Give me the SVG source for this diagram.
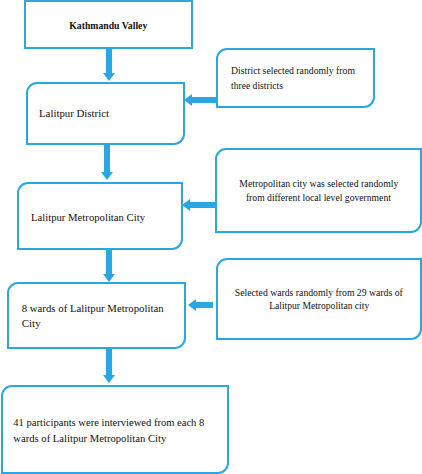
<svg xmlns="http://www.w3.org/2000/svg" width="422" height="474" viewBox="0 0 422 474">
<style>
.box{fill:#fff;stroke:#2aa7e0;stroke-width:2}
.arr{fill:#2aa7e0}
text{font-family:"Liberation Serif","Times New Roman",serif;font-size:11px;fill:#111}
.b{font-weight:bold}
.m{text-anchor:middle}
.s{font-size:10px}
</style>
<rect width="422" height="474" fill="#fff"/>
<g id="connectors">
<path class="arr" d="M106,49 H112 V73 H115 L109,81 L103,73 H106 Z"/>
<path class="arr" d="M104,145 H110 V172 H113 L107,180 L101,172 H104 Z"/>
<path class="arr" d="M106,250 H112 V274 H115 L109,282 L103,274 H106 Z"/>
<path class="arr" d="M106,349 H112 V375 H115 L109,383 L103,375 H106 Z"/>
<path class="arr" d="M217,97 H192 V94 L184,100 L192,106 V103 H217 Z"/>
<path class="arr" d="M216,202 H190 V199 L182,205 L190,211 V208 H216 Z"/>
<path class="arr" d="M213,302 H196 V299 L188,305 L196,311 V308 H213 Z"/>
</g>
<g id="n1" font-family="Liberation Serif, serif">
<rect class="box" x="25" y="1" width="167" height="47"/>
<text class="b" x="69.3" y="28.5" textLength="78" lengthAdjust="spacingAndGlyphs">Kathmandu Valley</text>
</g>
<g id="n2">
<path class="box" d="M37,83 H184 V134 A10,10 0 0 1 174,144 H27 V93 A10,10 0 0 1 37,83 Z"/>
<text x="39" y="117.3" textLength="70" lengthAdjust="spacingAndGlyphs">Lalitpur District</text>
</g>
<g id="s1">
<path class="box" d="M227,49 H374 V97 A10,10 0 0 1 364,107 H217 V59 A10,10 0 0 1 227,49 Z"/>
<text class="s" x="231" y="74.3" textLength="124" lengthAdjust="spacingAndGlyphs">District selected randomly from</text>
<text class="s" x="231" y="89.3" textLength="52" lengthAdjust="spacingAndGlyphs">three districts</text>
</g>
<g id="n3">
<path class="box" d="M28,183 H182 V239 A10,10 0 0 1 172,249 H18 V193 A10,10 0 0 1 28,183 Z"/>
<text x="31" y="220.7" textLength="114" lengthAdjust="spacingAndGlyphs">Lalitpur Metropolitan City</text>
</g>
<g id="s2">
<path class="box" d="M226,149 H421 V222 A10,10 0 0 1 411,232 H216 V159 A10,10 0 0 1 226,149 Z"/>
<text class="m s" x="318.8" y="186.7" textLength="159" lengthAdjust="spacingAndGlyphs">Metropolitan city was selected randomly</text>
<text class="m s" x="318.4" y="200.7" textLength="145" lengthAdjust="spacingAndGlyphs">from different local level government</text>
</g>
<g id="n4">
<path class="box" d="M18,283 H185 V338 A10,10 0 0 1 175,348 H8 V293 A10,10 0 0 1 18,283 Z"/>
<text x="21.7" y="312.3" textLength="142" lengthAdjust="spacingAndGlyphs">8 wards of Lalitpur Metropolitan</text>
<text x="21.7" y="327.3" textLength="19" lengthAdjust="spacingAndGlyphs">City</text>
</g>
<g id="s3">
<path class="box" d="M227,259 H421 V329 A10,10 0 0 1 411,339 H217 V269 A10,10 0 0 1 227,259 Z"/>
<text class="m s" x="318.8" y="295.7" textLength="168" lengthAdjust="spacingAndGlyphs">Selected wards randomly from 29 wards of</text>
<text class="m s" x="319.2" y="309.3" textLength="100" lengthAdjust="spacingAndGlyphs">Lalitpur Metropolitan city</text>
</g>
<g id="n5">
<path class="box" d="M12,386 H228 V463 A10,10 0 0 1 218,473 H2 V396 A10,10 0 0 1 12,386 Z"/>
<text x="13.3" y="425.7" textLength="191" lengthAdjust="spacingAndGlyphs">41 participants were interviewed from each 8</text>
<text x="13.3" y="442.3" textLength="153" lengthAdjust="spacingAndGlyphs">wards of Lalitpur Metropolitan City</text>
</g>
</svg>
